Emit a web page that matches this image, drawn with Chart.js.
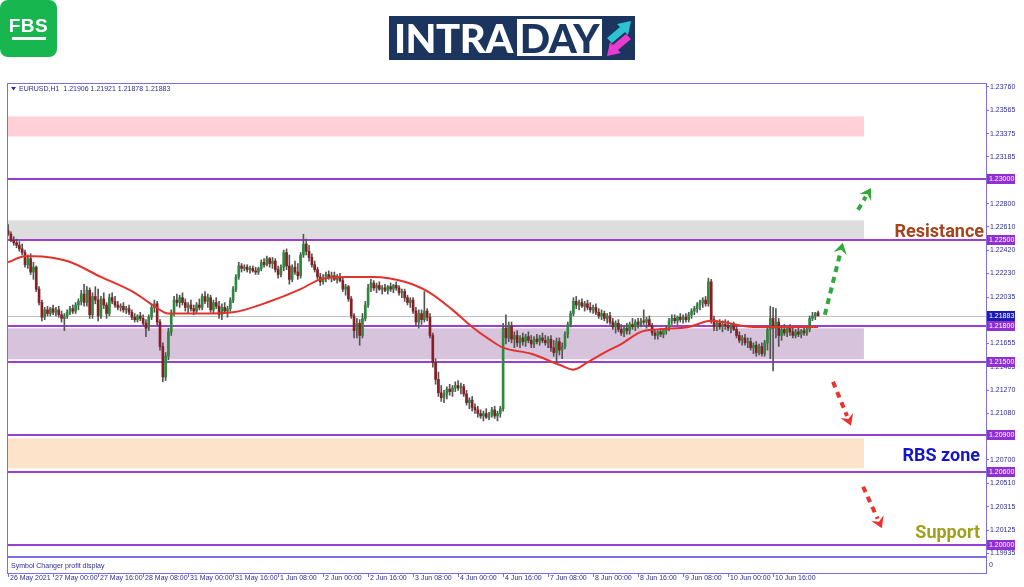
<!DOCTYPE html>
<html>
<head>
<meta charset="utf-8">
<script src="https://cdn.jsdelivr.net/npm/chart.js@4.4.0/dist/chart.umd.min.js"></script>
<style>
  body { margin:0; background:#fff; }
  #page { position:relative; width:1024px; height:587px; overflow:hidden; }
  #c { position:absolute; left:0; top:0; }
  .fbs { position:absolute; left:0; top:0; width:57px; height:57px; background:#17b64f; border-radius:8px; }
  .fbs span { position:absolute; left:0; top:15px; width:57px; text-align:center; color:#fff; font:bold 19px "Liberation Sans", Arial, sans-serif; letter-spacing:0.5px; }
  .fbs i { position:absolute; left:12px; top:37px; width:34px; height:3px; background:#fff; }
  .intra { position:absolute; left:389px; top:16px; width:246px; height:44px; background:#1c355e; }
  .intra .t1 { position:absolute; left:5px; top:0; color:#fff; font:900 40px Lato, "Liberation Sans", sans-serif; line-height:44px; letter-spacing:-0.5px; }
  .intra .day { position:absolute; left:128px; top:3px; width:85px; height:37px; background:#fff; color:#1c355e; text-align:center; font:900 40px Lato, "Liberation Sans", sans-serif; line-height:38px; letter-spacing:-0.5px; }
  .intra svg { position:absolute; left:215px; top:2px; }
</style>
</head>
<body>
<div id="page">
  <canvas id="c" width="1024" height="587"></canvas>
  <div class="fbs"><span>FBS</span><i></i></div>
  <div class="intra">
    <div class="t1">INTRA</div>
    <div class="day">DAY</div>
    <svg width="30" height="40" viewBox="0 0 30 40">
      <polygon points="3,20 16,9 13,6 27,3 24,17 21,14 8,25" fill="#2cc3d2"/>
      <polygon points="27,21 14,32 17,35 3,38 6,24 9,27 22,16" fill="#e93bd0"/>
    </svg>
  </div>
</div>
<script>
// EURUSD H1, one entry per hourly bar, 26 May 08:00 .. 11 Jun 08:00
const opens = [
  1.2258,1.2255,1.2250,1.2248,1.2246,1.2243,1.2240,1.2230,1.2235,1.2224,1.2228,1.2210,1.2199,1.2187,1.2193,1.2190,
  1.2194,1.2191,1.2193,1.2189,1.2186,1.2188,1.2191,1.2194,1.2192,1.2197,1.2200,1.2206,1.2199,1.2209,1.2189,1.2204,
  1.2201,1.2188,1.2202,1.2197,1.2190,1.2203,1.2200,1.2197,1.2195,1.2196,1.2193,1.2194,1.2191,1.2187,1.2185,1.2188,
  1.2186,1.2182,1.2178,1.2187,1.2195,1.2198,1.2183,1.2163,1.2138,1.2155,1.2175,1.2190,1.2201,1.2199,1.2203,1.2199,
  1.2195,1.2197,1.2194,1.2192,1.2197,1.2195,1.2204,1.2200,1.2203,1.2193,1.2199,1.2196,1.2189,1.2195,1.2192,1.2194,
  1.2201,1.2210,1.2220,1.2229,1.2227,1.2228,1.2226,1.2227,1.2225,1.2224,1.2227,1.2232,1.2230,1.2235,1.2231,1.2233,
  1.2226,1.2222,1.2228,1.2240,1.2229,1.2218,1.2228,1.2224,1.2221,1.2238,1.2247,1.2241,1.2236,1.2230,1.2226,1.2220,
  1.2216,1.2219,1.2222,1.2220,1.2221,1.2218,1.2220,1.2217,1.2210,1.2212,1.2202,1.2188,1.2176,1.2182,1.2172,1.2186,
  1.2197,1.2211,1.2215,1.2211,1.2213,1.2210,1.2211,1.2209,1.2212,1.2210,1.2213,1.2211,1.2207,1.2208,1.2203,1.2199,
  1.2201,1.2192,1.2183,1.2190,1.2185,1.2192,1.2187,1.2172,1.2150,1.2136,1.2125,1.2121,1.2124,1.2128,1.2126,1.2129,
  1.2131,1.2129,1.2130,1.2124,1.2117,1.2119,1.2113,1.2111,1.2108,1.2106,1.2108,1.2105,1.2107,1.2111,1.2106,1.2108,
  1.2112,1.2178,1.2170,1.2180,1.2169,1.2172,1.2166,1.2170,1.2167,1.2171,1.2168,1.2165,1.2169,1.2167,1.2170,1.2168,
  1.2166,1.2169,1.2162,1.2158,1.2167,1.2160,1.2163,1.2173,1.2181,1.2190,1.2200,1.2197,1.2199,1.2196,1.2198,1.2195,
  1.2193,1.2195,1.2191,1.2188,1.2190,1.2186,1.2188,1.2183,1.2179,1.2182,1.2177,1.2174,1.2178,1.2176,1.2181,1.2179,
  1.2183,1.2181,1.2184,1.2183,1.2185,1.2180,1.2174,1.2172,1.2175,1.2173,1.2176,1.2178,1.2184,1.2186,1.2184,1.2187,
  1.2185,1.2187,1.2185,1.2189,1.2192,1.2194,1.2197,1.2199,1.2201,1.2198,1.2216,1.2185,1.2179,1.2182,1.2179,1.2181,
  1.2180,1.2178,1.2180,1.2177,1.2172,1.2168,1.2170,1.2166,1.2167,1.2162,1.2164,1.2158,1.2163,1.2157,1.2166,1.2177,
  1.2186,1.2178,1.2183,1.2172,1.2177,1.2174,1.2178,1.2175,1.2172,1.2175,1.2173,1.2176,1.2174,1.2177,1.2186,1.2188,
  1.21906
];
const highs = [
  1.2263,1.2257,1.2253,1.2251,1.2249,1.2247,1.2242,1.2238,1.2239,1.2232,1.2229,1.2212,1.2201,1.2195,1.2196,1.2195,
  1.2197,1.2195,1.2196,1.2192,1.2190,1.2193,1.2196,1.2197,1.2199,1.2202,1.2209,1.2214,1.2212,1.2211,1.2207,1.2212,
  1.2210,1.2204,1.2207,1.2199,1.2206,1.2207,1.2204,1.2200,1.2198,1.2199,1.2196,1.2197,1.2193,1.2190,1.2189,1.2191,
  1.2189,1.2185,1.2189,1.2197,1.2201,1.2200,1.2185,1.2166,1.2158,1.2178,1.2193,1.2204,1.2206,1.2205,1.2207,1.2202,
  1.2199,1.2201,1.2197,1.2199,1.2202,1.2206,1.2208,1.2206,1.2205,1.2201,1.2203,1.2200,1.2198,1.2199,1.2196,1.2203,
  1.2212,1.2222,1.2232,1.2231,1.2230,1.2230,1.2229,1.2229,1.2228,1.2228,1.2234,1.2235,1.2237,1.2236,1.2236,1.2235,
  1.2229,1.2230,1.2242,1.2243,1.2238,1.2230,1.2233,1.2231,1.2240,1.2255,1.2251,1.2246,1.2239,1.2233,1.2228,1.2223,
  1.2222,1.2224,1.2225,1.2224,1.2224,1.2222,1.2223,1.2219,1.2214,1.2213,1.2204,1.2190,1.2186,1.2185,1.2190,1.2200,
  1.2214,1.2218,1.2217,1.2215,1.2216,1.2213,1.2214,1.2213,1.2215,1.2214,1.2216,1.2213,1.2210,1.2210,1.2205,1.2203,
  1.2203,1.2195,1.2193,1.2193,1.2208,1.2194,1.2190,1.2174,1.2153,1.2142,1.2131,1.2127,1.2130,1.2132,1.2131,1.2134,
  1.2135,1.2133,1.2132,1.2127,1.2121,1.2122,1.2116,1.2114,1.2111,1.2110,1.2112,1.2109,1.2113,1.2114,1.2110,1.2114,
  1.2182,1.2189,1.2183,1.2183,1.2175,1.2176,1.2172,1.2174,1.2173,1.2175,1.2172,1.2171,1.2173,1.2172,1.2174,1.2172,
  1.2171,1.2172,1.2168,1.2170,1.2170,1.2166,1.2175,1.2183,1.2192,1.2203,1.2204,1.2201,1.2202,1.2200,1.2201,1.2199,
  1.2197,1.2198,1.2194,1.2193,1.2192,1.2190,1.2191,1.2186,1.2184,1.2185,1.2181,1.2180,1.2182,1.2183,1.2186,1.2185,
  1.2186,1.2186,1.2193,1.2187,1.2188,1.2182,1.2177,1.2176,1.2178,1.2177,1.2180,1.2186,1.2189,1.2189,1.2188,1.2190,
  1.2189,1.2190,1.2191,1.2194,1.2196,1.2199,1.2201,1.2203,1.2204,1.2219,1.2218,1.2188,1.2184,1.2185,1.2184,1.2185,
  1.2184,1.2182,1.2183,1.2180,1.2175,1.2172,1.2173,1.2170,1.2170,1.2166,1.2167,1.2165,1.2166,1.2168,1.2180,1.2196,
  1.2195,1.2194,1.2186,1.2180,1.2181,1.2180,1.2181,1.2178,1.2177,1.2178,1.2177,1.2179,1.2179,1.2188,1.2191,1.2191,
  1.21921
];
const lows = [
  1.2254,1.2249,1.2246,1.2244,1.2241,1.2238,1.2228,1.2227,1.2222,1.2218,1.2208,1.2197,1.2184,1.2185,1.2188,1.2188,
  1.2189,1.2188,1.2187,1.2183,1.2176,1.2186,1.2189,1.2190,1.2190,1.2193,1.2197,1.2196,1.2196,1.2186,1.2186,1.2198,
  1.2184,1.2186,1.2194,1.2186,1.2188,1.2198,1.2195,1.2193,1.2192,1.2191,1.2190,1.2189,1.2185,1.2183,1.2183,1.2184,
  1.2180,1.2171,1.2176,1.2185,1.2191,1.2180,1.2160,1.2134,1.2135,1.2152,1.2172,1.2188,1.2196,1.2195,1.2197,1.2192,
  1.2190,1.2192,1.2189,1.2190,1.2193,1.2193,1.2198,1.2195,1.2191,1.2190,1.2194,1.2186,1.2185,1.2190,1.2187,1.2192,
  1.2199,1.2208,1.2218,1.2224,1.2225,1.2224,1.2223,1.2224,1.2222,1.2222,1.2225,1.2228,1.2229,1.2228,1.2227,1.2224,
  1.2219,1.2220,1.2225,1.2226,1.2214,1.2216,1.2222,1.2218,1.2219,1.2236,1.2238,1.2233,1.2228,1.2224,1.2218,1.2213,
  1.2214,1.2216,1.2218,1.2216,1.2217,1.2215,1.2216,1.2208,1.2205,1.2200,1.2186,1.2170,1.2170,1.2164,1.2170,1.2184,
  1.2195,1.2208,1.2209,1.2207,1.2209,1.2206,1.2208,1.2206,1.2208,1.2207,1.2209,1.2205,1.2203,1.2200,1.2197,1.2195,
  1.2190,1.2180,1.2178,1.2181,1.2183,1.2184,1.2170,1.2146,1.2132,1.2122,1.2118,1.2117,1.2120,1.2123,1.2122,1.2126,
  1.2127,1.2124,1.2122,1.2115,1.2112,1.2110,1.2108,1.2105,1.2104,1.2102,1.2104,1.2103,1.2105,1.2104,1.2102,1.2105,
  1.2110,1.2165,1.2167,1.2166,1.2162,1.2163,1.2162,1.2164,1.2163,1.2166,1.2162,1.2162,1.2165,1.2164,1.2166,1.2164,
  1.2162,1.2159,1.2155,1.2150,1.2156,1.2153,1.2161,1.2170,1.2179,1.2188,1.2194,1.2193,1.2195,1.2192,1.2193,1.2191,
  1.2190,1.2189,1.2186,1.2185,1.2184,1.2182,1.2181,1.2177,1.2174,1.2175,1.2172,1.2171,1.2173,1.2173,1.2177,1.2176,
  1.2178,1.2179,1.2181,1.2178,1.2179,1.2172,1.2169,1.2169,1.2171,1.2170,1.2173,1.2176,1.2181,1.2182,1.2181,1.2183,
  1.2182,1.2183,1.2183,1.2186,1.2189,1.2191,1.2193,1.2195,1.2196,1.2196,1.2182,1.2176,1.2176,1.2177,1.2175,1.2177,
  1.2176,1.2174,1.2176,1.2170,1.2166,1.2164,1.2164,1.2162,1.2160,1.2157,1.2155,1.2156,1.2155,1.2155,1.2160,1.2153,
  1.2143,1.2170,1.2163,1.2168,1.2172,1.2171,1.2172,1.2170,1.2170,1.2171,1.2170,1.2172,1.2172,1.2175,1.2184,1.2185,
  1.21878
];
const closes = [
  1.2255,1.2250,1.2248,1.2246,1.2243,1.2240,1.2230,1.2235,1.2224,1.2228,1.2210,1.2199,1.2187,1.2193,1.2190,1.2194,
  1.2191,1.2193,1.2189,1.2186,1.2188,1.2191,1.2194,1.2192,1.2197,1.2200,1.2206,1.2199,1.2209,1.2189,1.2204,1.2201,
  1.2188,1.2202,1.2197,1.2190,1.2203,1.2200,1.2197,1.2195,1.2196,1.2193,1.2194,1.2191,1.2187,1.2185,1.2188,1.2186,
  1.2182,1.2178,1.2187,1.2195,1.2198,1.2183,1.2163,1.2138,1.2155,1.2175,1.2190,1.2201,1.2199,1.2203,1.2199,1.2195,
  1.2197,1.2194,1.2192,1.2197,1.2195,1.2204,1.2200,1.2203,1.2193,1.2199,1.2196,1.2189,1.2195,1.2192,1.2194,1.2201,
  1.2210,1.2220,1.2229,1.2227,1.2228,1.2226,1.2227,1.2225,1.2224,1.2227,1.2232,1.2230,1.2235,1.2231,1.2233,1.2226,
  1.2222,1.2228,1.2240,1.2229,1.2218,1.2228,1.2224,1.2221,1.2238,1.2247,1.2241,1.2236,1.2230,1.2226,1.2220,1.2216,
  1.2219,1.2222,1.2220,1.2221,1.2218,1.2220,1.2217,1.2210,1.2212,1.2202,1.2188,1.2176,1.2182,1.2172,1.2186,1.2197,
  1.2211,1.2215,1.2211,1.2213,1.2210,1.2211,1.2209,1.2212,1.2210,1.2213,1.2211,1.2207,1.2208,1.2203,1.2199,1.2201,
  1.2192,1.2183,1.2190,1.2185,1.2192,1.2187,1.2172,1.2150,1.2136,1.2125,1.2121,1.2124,1.2128,1.2126,1.2129,1.2131,
  1.2129,1.2130,1.2124,1.2117,1.2119,1.2113,1.2111,1.2108,1.2106,1.2108,1.2105,1.2107,1.2111,1.2106,1.2108,1.2112,
  1.2178,1.2170,1.2180,1.2169,1.2172,1.2166,1.2170,1.2167,1.2171,1.2168,1.2165,1.2169,1.2167,1.2170,1.2168,1.2166,
  1.2169,1.2162,1.2158,1.2167,1.2160,1.2163,1.2173,1.2181,1.2190,1.2200,1.2197,1.2199,1.2196,1.2198,1.2195,1.2193,
  1.2195,1.2191,1.2188,1.2190,1.2186,1.2188,1.2183,1.2179,1.2182,1.2177,1.2174,1.2178,1.2176,1.2181,1.2179,1.2183,
  1.2181,1.2184,1.2183,1.2185,1.2180,1.2174,1.2172,1.2175,1.2173,1.2176,1.2178,1.2184,1.2186,1.2184,1.2187,1.2185,
  1.2187,1.2185,1.2189,1.2192,1.2194,1.2197,1.2199,1.2201,1.2198,1.2216,1.2185,1.2179,1.2182,1.2179,1.2181,1.2180,
  1.2178,1.2180,1.2177,1.2172,1.2168,1.2170,1.2166,1.2167,1.2162,1.2164,1.2158,1.2163,1.2157,1.2166,1.2177,1.2186,
  1.2178,1.2183,1.2172,1.2177,1.2174,1.2178,1.2175,1.2172,1.2175,1.2173,1.2176,1.2174,1.2177,1.2186,1.2188,1.2190,
  1.21883
];

// red moving average, read at a few bars
const maBars   = [0, 6, 9, 21, 33, 45, 52, 57, 69, 80, 92, 104, 111, 120, 130, 141, 150, 158, 165, 171, 176, 186, 196, 201, 206, 212, 218, 225, 231, 242, 250, 254, 265, 274, 288];
const maValues = [1.2232, 1.2237, 1.2237, 1.2233, 1.2220, 1.2207, 1.2196, 1.2190, 1.2190, 1.2191, 1.2199, 1.2210, 1.2218, 1.2220, 1.2220, 1.2216, 1.2207, 1.2193, 1.2179, 1.2169, 1.2162, 1.2157, 1.2148, 1.2144, 1.2150, 1.2158, 1.2165, 1.2175, 1.2177, 1.2179, 1.2184, 1.2183, 1.2179, 1.2179, 1.2179];

const timeLabels = ['26 May 2021', '27 May 00:00', '27 May 16:00', '28 May 08:00', '31 May 00:00', '31 May 16:00', '1 Jun 08:00', '2 Jun 00:00', '2 Jun 16:00', '3 Jun 08:00', '4 Jun 00:00', '4 Jun 16:00', '7 Jun 08:00', '8 Jun 00:00', '8 Jun 16:00', '9 Jun 08:00', '10 Jun 00:00', '10 Jun 16:00'];
const priceTicks = [1.23760, 1.23565, 1.23375, 1.23185, 1.22990, 1.22800, 1.22610, 1.22420, 1.22230, 1.22035, 1.21845, 1.21655, 1.21465, 1.21270, 1.21080, 1.20890, 1.20700, 1.20510, 1.20315, 1.20125, 1.19935];

const levels = [1.23000, 1.22500, 1.21800, 1.21500, 1.20900, 1.20600, 1.20000];
const zoneTops    = [1.23516, 1.22664, 1.21779, 1.20877];
const zoneBottoms = [1.23352, 1.22500, 1.21525, 1.20631];
const zoneColors  = ['#ffd0d7', '#dddddd', '#d8c3dc', '#fde3c9'];
const zoneEndBar = 304.3;

// dashed arrows: [bar from, price from, bar to, price to]
const greenArrows = [[290.4, 1.2189, 296.8, 1.2248], [302.2, 1.2275, 306.8, 1.2293]];
const redArrows   = [[293.3, 1.2134, 299.7, 1.2098], [304.0, 1.2048, 310.7, 1.2014]];

const notes = [['Resistance', 1.22568, '#a5431c', 2], ['RBS zone', 1.20724, '#1515c8', 6], ['Support', 1.20093, '#a0a01c', 6]];

const frameColor = '#7a6ee0';
const textBlue = '#2d2d92';
const axisFont = '"Liberation Sans", Arial, sans-serif';

function arrow(ctx, x1, y1, x2, y2, color) {
  const ang = Math.atan2(y2 - y1, x2 - x1);
  const head = 13;
  ctx.save();
  ctx.strokeStyle = color; ctx.fillStyle = color;
  ctx.lineWidth = 4; ctx.setLineDash([6, 5]); ctx.lineCap = 'butt';
  ctx.beginPath();
  ctx.moveTo(x1, y1);
  ctx.lineTo(x2 - Math.cos(ang) * head * 0.8, y2 - Math.sin(ang) * head * 0.8);
  ctx.stroke();
  ctx.setLineDash([]);
  ctx.beginPath();
  ctx.moveTo(x2, y2);
  ctx.lineTo(x2 - Math.cos(ang - 0.55) * head, y2 - Math.sin(ang - 0.55) * head);
  ctx.lineTo(x2 - Math.cos(ang) * head * 0.55, y2 - Math.sin(ang) * head * 0.55);
  ctx.lineTo(x2 - Math.cos(ang + 0.55) * head, y2 - Math.sin(ang + 0.55) * head);
  ctx.closePath();
  ctx.fill();
  ctx.restore();
}

const overlay = {
  id: 'overlay',
  beforeDatasetsDraw(chart) {
    const {ctx, chartArea: a, scales: {x, y}} = chart;
    ctx.save();
    const xe = x.getPixelForValue(zoneEndBar);
    zoneTops.forEach((t, i) => {
      const y1 = y.getPixelForValue(t), y2 = y.getPixelForValue(zoneBottoms[i]);
      ctx.fillStyle = zoneColors[i];
      ctx.fillRect(a.left, y1, xe - a.left, y2 - y1);
    });
    // last price line
    const yl = Math.round(y.getPixelForValue(closes[closes.length - 1])) + 0.5;
    ctx.strokeStyle = '#c0c0c0'; ctx.lineWidth = 1;
    ctx.beginPath(); ctx.moveTo(a.left, yl); ctx.lineTo(a.right, yl); ctx.stroke();
    ctx.strokeStyle = '#9b3fd2'; ctx.lineWidth = 2;
    levels.forEach(v => {
      const yy = Math.round(y.getPixelForValue(v));
      ctx.beginPath(); ctx.moveTo(a.left, yy); ctx.lineTo(a.right, yy); ctx.stroke();
    });
    ctx.restore();
  },
  afterDraw(chart) {
    const {ctx, chartArea: a, scales: {x, y}} = chart;
    ctx.save();
    // frame and sub window
    ctx.strokeStyle = frameColor; ctx.lineWidth = 1;
    ctx.strokeRect(a.left + 0.5, a.top + 0.5, a.right - a.left, a.bottom - a.top);
    ctx.strokeRect(a.left + 0.5, a.bottom + 1.5, a.right - a.left, 16);
    x.ticks.forEach(t => {
      const px = Math.round(x.getPixelForValue(t.value)) + 0.5;
      ctx.beginPath(); ctx.moveTo(px, a.bottom + 17); ctx.lineTo(px, a.bottom + 21); ctx.stroke();
    });
    ctx.fillStyle = textBlue;
    ctx.font = '7px ' + axisFont;
    ctx.textBaseline = 'middle';
    ctx.fillText('Symbol Changer profit display', a.left + 4, a.bottom + 10);
    ctx.fillText('0', a.right + 3, a.bottom + 9);
    // header
    const n = closes.length - 1;
    ctx.beginPath();
    ctx.moveTo(a.left + 4, a.top + 4); ctx.lineTo(a.left + 9, a.top + 4); ctx.lineTo(a.left + 6.5, a.top + 7.5);
    ctx.closePath(); ctx.fill();
    ctx.fillText('EURUSD,H1  ' + [opens[n], highs[n], lows[n], closes[n]].map(v => v.toFixed(5)).join(' '), a.left + 12, a.top + 6);
    // arrows
    greenArrows.forEach(r => arrow(ctx, x.getPixelForValue(r[0]), y.getPixelForValue(r[1]), x.getPixelForValue(r[2]), y.getPixelForValue(r[3]), '#2fa83c'));
    redArrows.forEach(r => arrow(ctx, x.getPixelForValue(r[0]), y.getPixelForValue(r[1]), x.getPixelForValue(r[2]), y.getPixelForValue(r[3]), '#e8332e'));
    // notes
    ctx.font = 'bold 18px Roboto, "Liberation Sans", sans-serif';
    ctx.textAlign = 'right';
    notes.forEach(nt => {
      ctx.fillStyle = nt[2];
      ctx.fillText(nt[0], a.right - nt[3], y.getPixelForValue(nt[1]));
    });
    // price boxes on the axis
    ctx.textAlign = 'left';
    ctx.font = '7px ' + axisFont;
    const box = (v, col) => {
      const yy = Math.round(y.getPixelForValue(v));
      ctx.fillStyle = col;
      ctx.fillRect(a.right + 1, yy - 5, 28, 10);
      ctx.fillStyle = '#fff';
      ctx.fillText(v.toFixed(5), a.right + 3, yy + 0.5);
    };
    levels.forEach(v => box(v, '#9030d0'));
    box(closes[n], '#1c1cb2');
    ctx.restore();
  }
};

new Chart(document.getElementById('c'), {
  type: 'bar',
  data: {
    datasets: [
      {
        type: 'line',
        data: maBars.map((b, i) => ({x: b, y: maValues[i]})),
        borderColor: '#e3322b', borderWidth: 2, pointRadius: 0,
        tension: 0.4, cubicInterpolationMode: 'monotone', order: 0
      },
      {
        data: lows.map((l, i) => ({x: i, y: [l, highs[i]]})),
        backgroundColor: '#555555', barThickness: 1, grouped: false, order: 2
      },
      {
        data: opens.map((o, i) => ({x: i, y: [o, closes[i]]})),
        backgroundColor: opens.map((o, i) => closes[i] >= o ? '#2b8a3b' : '#8a1d24'),
        barThickness: 2, minBarLength: 1, grouped: false, order: 1
      }
    ]
  },
  options: {
    responsive: false,
    animation: false,
    layout: {padding: {left: 7, top: 83, right: 0, bottom: 0}},
    plugins: {legend: {display: false}, tooltip: {enabled: false}},
    scales: {
      x: {
        type: 'linear', min: -0.4, max: 347.7, offset: false,
        grid: {display: false, drawTicks: false},
        border: {display: false},
        afterBuildTicks: s => { s.ticks = timeLabels.map((t, k) => ({value: k * 16})); },
        afterFit: s => { s.height = 31; s.paddingLeft = 0; s.paddingRight = 0; },
        ticks: {
          autoSkip: false, maxRotation: 0, align: 'start', padding: 18, labelOffset: 2,
          color: textBlue, font: {size: 7, family: axisFont},
          callback: v => timeLabels[Math.round(v / 16)]
        }
      },
      y: {
        position: 'right', min: 1.19912, max: 1.23790,
        grid: {drawOnChartArea: false, tickLength: 3, color: frameColor},
        border: {color: frameColor},
        afterBuildTicks: s => { s.ticks = priceTicks.map(v => ({value: v})); },
        afterFit: s => { s.width = 38; },
        ticks: {padding: 1, color: textBlue, font: {size: 7, family: axisFont}, callback: v => v.toFixed(5)}
      }
    }
  },
  plugins: [overlay]
});
</script>
</body>
</html>
